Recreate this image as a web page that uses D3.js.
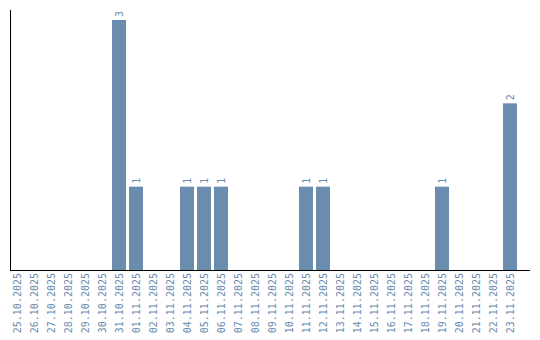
<!DOCTYPE html>
<html lang="en">
<head>
    <meta charset="UTF-8">
    <title>Daily counts</title>
    <script src="https://d3js.org/d3.v7.min.js"></script>
    <style>
        body { margin: 0; background: #fff; }
        text { font-family: "DejaVu Sans Mono", monospace; font-size: 10px; fill: #6a8caf; }
    </style>
</head>
<body>
<script>
    // dates shown on the x axis
    var days = ["25.10.2025", "26.10.2025", "27.10.2025", "28.10.2025", "29.10.2025", "30.10.2025",
        "31.10.2025", "01.11.2025", "02.11.2025", "03.11.2025", "04.11.2025", "05.11.2025",
        "06.11.2025", "07.11.2025", "08.11.2025", "09.11.2025", "10.11.2025", "11.11.2025",
        "12.11.2025", "13.11.2025", "14.11.2025", "15.11.2025", "16.11.2025", "17.11.2025",
        "18.11.2025", "19.11.2025", "20.11.2025", "21.11.2025", "22.11.2025", "23.11.2025"];
    // count per day
    var counts = [0, 0, 0, 0, 0, 0, 3, 1, 0, 0, 1, 1, 1, 0, 0, 0, 0, 1, 1, 0, 0, 0, 0, 0, 0, 1, 0, 0, 0, 2];

    var width = 540, height = 340;
    var marginLeft = 10, plotBottom = 270, plotTop = 20;

    var svg = d3.select("body").append("svg")
        .attr("width", width)
        .attr("height", height);

    var x = d3.scaleBand()
        .domain(days)
        .range([marginLeft, 517])
        .paddingInner(3 / 17)
        .paddingOuter(0);

    var y = d3.scaleLinear()
        .domain([0, d3.max(counts)])
        .range([plotBottom, plotTop]);

    var data = days.map(function(d, i) { return { day: d, n: counts[i] }; });
    var nonZero = data.filter(function(d) { return d.n > 0; });

    // bars
    svg.selectAll(".bar")
        .data(nonZero)
        .enter().append("rect")
        .attr("class", "bar")
        .attr("x", function(d) { return x(d.day); })
        .attr("y", function(d) { return y(d.n); })
        .attr("width", x.bandwidth())
        .attr("height", function(d) { return y(0) - y(d.n); })
        .attr("fill", "#6a8caf");

    // value labels, rotated
    svg.selectAll(".val")
        .data(nonZero)
        .enter().append("text")
        .attr("class", "val")
        .attr("transform", function(d) {
            return "translate(" + (x(d.day) + x.bandwidth() / 2 + 3.5) + "," + (y(d.n) - 3) + ") rotate(-90)";
        })
        .text(function(d) { return d.n; });

    // x axis
    var xAxis = svg.append("g")
        .attr("transform", "translate(0," + plotBottom + ")")
        .call(d3.axisBottom(x).tickSize(0).tickSizeOuter(0));
    xAxis.select(".domain").remove();
    xAxis.selectAll("text")
        .attr("transform", "rotate(-90)")
        .attr("x", -3)
        .attr("y", 0)
        .attr("dy", "0.35em")
        .style("text-anchor", "end")
        .style("font-family", "'DejaVu Sans Mono', monospace")
        .style("font-size", "10px")
        .attr("fill", "#6a8caf");

    svg.append("line")
        .attr("x1", marginLeft).attr("x2", 530)
        .attr("y1", plotBottom + 0.5).attr("y2", plotBottom + 0.5)
        .attr("stroke", "#000");

    // y axis line only
    svg.append("line")
        .attr("x1", marginLeft + 0.5).attr("x2", marginLeft + 0.5)
        .attr("y1", 10).attr("y2", plotBottom)
        .attr("stroke", "#000");
</script>
</body>
</html>
